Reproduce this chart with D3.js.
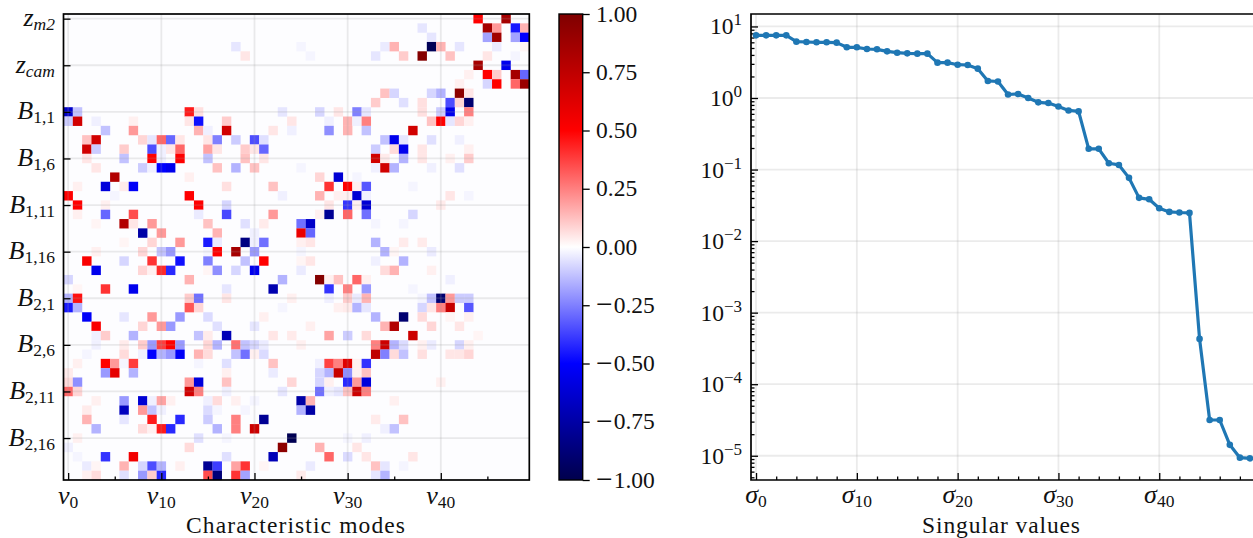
<!DOCTYPE html>
<html><head><meta charset="utf-8">
<script src="https://cdn.jsdelivr.net/npm/d3@7"></script>
<style>html,body{margin:0;padding:0;background:#fff;overflow:hidden}text{font-family:"Liberation Serif",serif;fill:#111}</style>
</head><body><svg id="c" width="1253" height="538"></svg>
<script>
const modeTicks=[0,10,20,30,40];
const modeMinorTicks=[5,15,25,35,45];
const rowTicks=[0,5,10,15,20,25,30,35,40,45];
const rowLabels=[["z","m2"],["z","cam"],["B","1,1"],["B","1,6"],["B","1,11"],["B","1,16"],["B","2,1"],["B","2,6"],["B","2,11"],["B","2,16"]];
const colorbarTicks=[-1,-0.75,-0.5,-0.25,0,0.25,0.5,0.75,1];
const colorbarLabels=["1.00","0.75","0.50","0.25","0.00","0.25","0.50","0.75","1.00"];
const singularValues=[7.51,7.51,7.51,7.51,6.13,6.06,6.0,6.0,5.94,5.11,5.11,4.84,4.79,4.49,4.3,4.21,4.17,4.17,3.12,3.12,2.92,2.89,2.57,1.73,1.7,1.12,1.14,1.0,.87,.85,.76,.67,.65,.195,.195,.1226,.116,.0765,.0402,.0384,.0288,.0256,.0251,.0248,4.3e-4,3.16e-5,3.16e-5,1.42e-5,9.4e-6,9.2e-6];
const sigmaTicks=[0,10,20,30,40];
const sigmaMinorTicks=d3.range(0,50,2).filter(d=>d%10);
const decades=[1,0,-1,-2,-3,-4,-5];
// [col,value] pairs for every row of the mode matrix
const modeRows=[
[[44,.5],[47,.85]],
[[38,-.05],[45,.85],[46,.2],[48,-.45],[49,.15]],
[[39,-.05],[45,-.18],[46,.87],[48,-.18],[49,-.5]],
[[18,-.05],[25,-.02],[34,-.04],[35,.15],[39,-.97],[40,.15],[42,-.05],[46,-.04],[49,.02]],
[[19,.05],[26,-.02],[33,-.05],[36,.1],[38,.98],[41,.12],[45,.05],[48,-.02]],
[[44,.85],[47,-.55]],
[[43,.03],[45,.5],[46,.1],[48,.85],[49,-.3]],
[[42,.03],[45,-.08],[46,.5],[48,.3],[49,.9]],
[[34,.12],[35,-.08],[39,-.08],[40,-.15],[42,.95],[43,.05]],
[[33,.1],[36,-.06],[38,.06],[41,-.35],[42,.08],[43,-.9]],
[[0,-.65],[1,-.12],[13,.45],[14,.06],[23,-.05],[27,-.08],[29,.05],[31,-.25],[32,-.05],[38,.06],[40,-.1],[41,-.55],[43,.25]],
[[0,-.1],[1,.68],[3,-.03],[7,.03],[13,.05],[14,-.47],[17,.1],[24,.05],[28,-.03],[30,.15],[31,-.03],[32,.25],[39,.12],[40,.5],[41,-.05],[42,.08],[43,.03]],
[[4,-.12],[7,.2],[14,.15],[15,-.03],[17,.68],[22,.05],[24,-.03],[28,-.22],[30,.15],[32,-.12],[37,.68]],
[[2,.12],[3,.68],[8,.08],[9,-.05],[10,.3],[11,-.3],[12,.05],[15,.05],[16,-.25],[18,-.1],[20,-.35],[21,-.06],[34,-.12],[35,-.55],[36,-.05],[39,-.06],[42,-.03]],
[[2,.68],[3,-.1],[6,.1],[9,-.35],[10,-.03],[11,.05],[12,.3],[15,.18],[16,.05],[19,.1],[20,.05],[21,-.3],[33,-.1],[35,.07],[36,-.55],[38,.05],[43,.03]],
[[2,.05],[6,-.12],[9,.5],[10,-.03],[12,.5],[15,-.12],[19,.12],[21,.05],[33,.68],[34,.04],[36,-.15],[38,.05],[41,.03],[43,.1]],
[[3,.05],[8,-.1],[9,-.03],[10,-.5],[11,-.55],[16,.12],[18,-.15],[20,.12],[25,-.02],[33,-.03],[34,.68],[35,-.15],[39,-.03],[42,-.06]],
[[5,.8],[13,.03],[27,.08],[29,-.62],[31,-.02]],
[[1,.03],[4,-.6],[6,.04],[7,-.52],[17,.06],[22,.12],[28,.4],[30,.5],[31,.03],[32,-.33],[37,-.02]],
[[0,.5],[5,-.02],[13,.5],[23,-.03],[27,.15],[29,.03],[30,.03],[31,-.62],[32,-.03],[41,.05],[43,-.02]],
[[1,.5],[4,.03],[14,.5],[17,-.08],[28,.05],[30,-.4],[31,.03],[32,-.62],[40,.04]],
[[1,.03],[4,-.3],[7,.35],[14,-.04],[17,-.36],[22,.2],[27,.03],[28,-.8],[30,.3],[32,-.28],[37,-.08]],
[[3,.02],[6,.8],[7,.05],[9,.2],[15,.12],[19,-.06],[21,.04],[25,-.28],[26,-.65],[33,-.02],[36,-.02]],
[[8,-.75],[10,.2],[16,.15],[20,-.03],[25,.58],[26,-.3]],
[[6,.02],[9,.08],[12,.2],[15,-.45],[16,-.04],[19,-.85],[20,-.03],[21,-.28],[25,.03],[26,.05],[33,-.15],[36,.04],[38,.04]],
[[3,.03],[8,.08],[10,-.12],[11,-.2],[15,-.02],[16,.5],[18,.85],[20,-.2],[25,-.02],[34,-.15],[35,.02],[39,-.04]],
[[2,.52],[6,-.08],[9,.4],[12,-.47],[15,-.25],[19,-.12],[21,.5],[25,.02],[26,.05],[33,-.03],[36,-.15]],
[[3,-.55],[8,.08],[9,.03],[10,.42],[11,-.42],[15,.02],[16,-.22],[18,-.08],[20,-.55],[25,-.04],[34,.07],[35,.15],[39,.03]],
[[0,-.08],[13,.15],[23,-.15],[27,.98],[28,.03],[29,.12],[31,.3],[32,.03],[41,-.03]],
[[1,.02],[4,.4],[7,-.55],[17,-.05],[22,-.72],[28,-.4],[30,.25],[32,-.2],[37,-.02]],
[[0,-.15],[1,.47],[13,.1],[14,-.28],[17,.05],[24,.03],[28,-.03],[30,.1],[31,-.04],[32,.15],[38,-.02],[39,-.12],[40,-.9],[41,.2],[42,-.1],[43,-.1]],
[[0,-.45],[1,-.15],[13,.33],[14,.08],[23,-.02],[29,.03],[30,.04],[31,-.15],[32,-.05],[38,-.08],[39,.05],[40,.25],[41,.72],[43,-.33]],
[[2,-.52],[6,-.05],[9,.2],[12,-.2],[15,-.07],[21,.03],[33,-.15],[36,-.9],[38,.07],[41,.02],[43,.03]],
[[3,.52],[8,.08],[10,.2],[11,-.2],[16,-.06],[20,-.05],[26,.03],[34,.15],[35,.8],[39,.08],[42,.05]],
[[3,-.03],[4,.1],[7,-.15],[14,-.12],[15,.04],[17,-.7],[22,.05],[24,.04],[28,.18],[30,-.1],[32,.07],[37,.7],[44,.02]],
[[3,-.03],[6,.04],[8,.1],[9,-.2],[10,.38],[11,.5],[12,-.2],[15,.08],[16,-.15],[18,.28],[19,-.12],[20,-.08],[21,-.04],[25,.03],[33,.25],[34,.7],[35,-.15],[36,-.07],[38,.03],[39,-.04],[42,-.08],[43,.03]],
[[2,-.02],[6,.07],[8,-.03],[9,-.5],[10,-.15],[11,-.2],[12,-.52],[14,.15],[15,.07],[18,-.12],[19,-.28],[20,.03],[21,-.07],[33,.75],[34,-.25],[35,.07],[36,-.12],[38,.06],[41,.05],[42,.05],[43,.08]],
[[1,.03],[4,.5],[5,.2],[6,-.02],[7,.38],[14,-.02],[17,-.06],[22,.12],[27,-.03],[28,.37],[29,.25],[30,.62],[31,.03],[32,-.4]],
[[0,.04],[4,-.2],[5,.6],[7,-.15],[17,.03],[22,-.04],[27,-.08],[28,-.15],[29,.72],[30,-.22],[31,.03],[32,.12]],
[[0,.07],[1,-.22],[13,.2],[14,-.6],[17,.12],[24,.08],[27,-.08],[28,.03],[30,-.42],[31,.2],[32,-.6],[40,.03]],
[[0,.3],[1,.08],[13,.68],[14,.25],[17,-.03],[23,-.05],[27,-.28],[28,-.03],[29,-.05],[30,.12],[31,.7],[32,.25]],
[[3,.03],[6,-.2],[8,-.62],[9,-.03],[10,.18],[11,.03],[15,-.03],[16,.07],[18,.03],[20,-.02],[25,-.75],[26,.15],[35,.03]],
[[2,.04],[6,-.68],[8,.2],[9,-.12],[10,-.03],[15,-.07],[16,-.02],[19,-.02],[25,-.15],[26,-.75]],
[[2,.15],[6,-.05],[9,.45],[12,-.42],[15,-.1],[18,.25],[21,-.8],[33,.04],[36,.12]],
[[3,-.15],[8,.07],[9,.03],[10,.45],[11,-.42],[16,-.15],[18,.25],[20,.7],[34,-.03],[35,-.12]],
[[1,.03],[14,-.06],[17,-.02],[24,-.98],[30,-.02],[32,-.03]],
[[0,-.03],[13,.07],[23,.95],[27,.15],[31,.05]],
[[1,-.02],[4,-.4],[7,.55],[17,-.06],[22,-.7],[28,.3],[30,-.07],[32,.05],[37,.05]],
[[2,-.04],[3,.02],[6,.15],[8,-.08],[9,-.35],[10,-.15],[12,.03],[15,-.8],[16,-.38],[18,.18],[19,.4],[21,.02],[26,-.04],[33,.12],[34,-.05],[36,-.02]],
[[2,.03],[3,.07],[6,-.06],[8,-.2],[9,.1],[10,-.42],[15,.35],[16,-.88],[18,.4],[19,-.18],[25,.04],[33,-.05],[34,-.15]]
];

const svg=d3.select("#c");
const FS=23.5,MATH=26,SUB=17,GRID="#999",TICKW=1.3,SPINE=1.7;
const heat={l:63.5,r:529.3,t:14,b:480};
const seismic=d3.scaleLinear().domain([-1,-.5,0,.5,1]).range(["#00004c","#0000ff","#ffffff","#ff0000","#7f0000"]).clamp(true);
const xM=d3.scaleBand().domain(d3.range(50)).range([heat.l,heat.r]).paddingInner(0).paddingOuter(0);
const yM=d3.scaleBand().domain(d3.range(50)).range([heat.t,heat.b]);

function mathText(g,x,y,anchor,base,sub,subItalic){
  const t=g.append("text").attr("x",x).attr("y",y).attr("text-anchor",anchor).attr("font-size",MATH);
  t.append("tspan").attr("font-style","italic").text(base);
  t.append("tspan").attr("dy",4).attr("font-size",SUB+.5).attr("font-style",subItalic?"italic":"normal").text(sub);
}

// heatmap
svg.append("rect").attr("x",heat.l).attr("y",heat.t).attr("width",heat.r-heat.l).attr("height",heat.b-heat.t).attr("fill",seismic(-.004));
const cells=modeRows.flatMap((row,r)=>row.map(([c,v])=>({r,c,v})));
svg.append("g").selectAll("rect").data(cells).join("rect")
  .attr("x",d=>xM(d.c)).attr("y",d=>yM(d.r)).attr("width",xM.bandwidth()+.1).attr("height",yM.bandwidth()+.1)
  .attr("fill",d=>seismic(d.v));
const cx=d=>xM(d)+xM.bandwidth()/2, cy=d=>yM(d)+yM.bandwidth()/2;
const hg=svg.append("g").attr("stroke",GRID).attr("stroke-opacity",.2).attr("stroke-width",1.8);
modeTicks.forEach(d=>hg.append("line").attr("x1",cx(d)).attr("x2",cx(d)).attr("y1",heat.t).attr("y2",heat.b));
rowTicks.forEach(d=>hg.append("line").attr("y1",cy(d)).attr("y2",cy(d)).attr("x1",heat.l).attr("x2",heat.r));

function styleAxis(g){g.selectAll(".domain").remove();g.selectAll("line").attr("stroke","#000").attr("stroke-width",TICKW);g.selectAll("text").remove();}
const xLin=d3.scaleLinear().domain([-.5,49.5]).range([heat.l,heat.r]);
const yLin=d3.scaleLinear().domain([-.5,49.5]).range([heat.t,heat.b]);
svg.append("g").attr("transform",`translate(0,${heat.b})`).call(d3.axisBottom(xLin).tickValues(modeTicks).tickSize(-7)).call(styleAxis);
svg.append("g").attr("transform",`translate(0,${heat.b})`).call(d3.axisBottom(xLin).tickValues(modeMinorTicks).tickSize(-3.5)).call(styleAxis);
svg.append("g").attr("transform",`translate(${heat.l},0)`).call(d3.axisLeft(yLin).tickValues(rowTicks).tickSize(-7)).call(styleAxis);
svg.append("rect").attr("x",heat.l).attr("y",heat.t).attr("width",heat.r-heat.l).attr("height",heat.b-heat.t).attr("fill","none").attr("stroke","#000").attr("stroke-width",SPINE);
const hl=svg.append("g");
modeTicks.forEach(d=>mathText(hl,xLin(d),504,"middle","v",String(d),false));
rowTicks.forEach((d,i)=>mathText(hl,55,yLin(d)+7.5,"end",rowLabels[i][0],rowLabels[i][1],rowLabels[i][0]==="z"));
hl.append("text").attr("x",186).attr("y",533).attr("font-size",FS).attr("textLength",219).attr("lengthAdjust","spacing").text("Characteristic modes");

// colorbar
const cb={l:559,r:582.7};
const yC=d3.scaleLinear().domain([-1,1]).range([heat.b,heat.t]);
const grad=svg.append("defs").append("linearGradient").attr("id","cbg").attr("x1",0).attr("x2",0).attr("y1",1).attr("y2",0);
[-1,-.5,0,.5,1].forEach(v=>grad.append("stop").attr("offset",(v+1)/2).attr("stop-color",seismic(v)));
svg.append("rect").attr("x",cb.l).attr("y",heat.t).attr("width",cb.r-cb.l).attr("height",heat.b-heat.t).attr("fill","url(#cbg)").attr("stroke","#000").attr("stroke-width",SPINE-.3);
svg.append("g").attr("transform",`translate(${cb.r},0)`).call(d3.axisRight(yC).tickValues(colorbarTicks).tickSize(7)).call(styleAxis);
colorbarTicks.forEach((d,i)=>{
  const t=svg.append("text").attr("x",596).attr("y",yC(d)+7.5).attr("font-size",FS);
  if(d<0){t.append("tspan").attr("font-size",FS+6).attr("dy",1.5).text("\u2212");
    t.append("tspan").attr("dy",-1.5).attr("dx",1).text(colorbarLabels[i]);}
  else t.text(colorbarLabels[i]);
});

// singular values
const sv={l:751,r:1255,t:14,b:480};
const xS=d3.scaleLinear().domain([-.5,49.5]).range([sv.l,sv.r]);
const yS=d3.scaleLog().domain([Math.pow(10,84/71.55),Math.pow(10,-382/71.55)]).range([sv.t,sv.b]);
const sg=svg.append("g").attr("stroke",GRID).attr("stroke-opacity",.2).attr("stroke-width",1.8);
sigmaTicks.forEach(d=>sg.append("line").attr("x1",xS(d)).attr("x2",xS(d)).attr("y1",sv.t).attr("y2",sv.b));
decades.forEach(d=>sg.append("line").attr("y1",yS(Math.pow(10,d))).attr("y2",yS(Math.pow(10,d))).attr("x1",sv.l).attr("x2",sv.r));
const minorY=decades.flatMap(d=>d3.range(2,10).map(m=>m*Math.pow(10,d-1))).concat([2,3,4,5,6,7,8,9].map(m=>m*10)).filter(v=>yS(v)>sv.t&&yS(v)<sv.b);
svg.append("g").attr("transform",`translate(${sv.l},0)`).call(d3.axisLeft(yS).tickValues(decades.map(d=>Math.pow(10,d))).tickSize(-7)).call(styleAxis);
svg.append("g").attr("transform",`translate(${sv.l},0)`).call(d3.axisLeft(yS).tickValues(minorY).tickSize(-3.5)).call(styleAxis);
svg.append("g").attr("transform",`translate(0,${sv.b})`).call(d3.axisBottom(xS).tickValues(sigmaTicks).tickSize(-7)).call(styleAxis);
svg.append("g").attr("transform",`translate(0,${sv.b})`).call(d3.axisBottom(xS).tickValues(sigmaMinorTicks).tickSize(-3.5)).call(styleAxis);
svg.append("path").attr("d",d3.line().x((d,i)=>xS(i)).y(d=>yS(d))(singularValues)).attr("fill","none").attr("stroke","#1f77b4").attr("stroke-width",3.2).attr("stroke-linejoin","round");
svg.append("g").selectAll("circle").data(singularValues).join("circle").attr("cx",(d,i)=>xS(i)).attr("cy",d=>yS(d)).attr("r",3.3).attr("fill","#1f77b4");
svg.append("path").attr("d",`M${sv.r},${sv.t}H${sv.l}V${sv.b}H${sv.r}`).attr("fill","none").attr("stroke","#000").attr("stroke-width",SPINE);
const sl=svg.append("g");
sigmaTicks.forEach(d=>mathText(sl,xS(d),503,"middle","\u03c3",String(d),false));
decades.forEach(d=>{
  const t=sl.append("text").attr("x",742).attr("y",yS(Math.pow(10,d))+8).attr("text-anchor","end").attr("font-size",FS);
  t.append("tspan").text("10");
  t.append("tspan").attr("dy",-9).attr("font-size",SUB).text(d<0?"\u2212"+(-d):String(d));
});
sl.append("text").attr("x",922).attr("y",533).attr("font-size",FS).attr("textLength",158).attr("lengthAdjust","spacing").text("Singular values");
</script></body></html>
